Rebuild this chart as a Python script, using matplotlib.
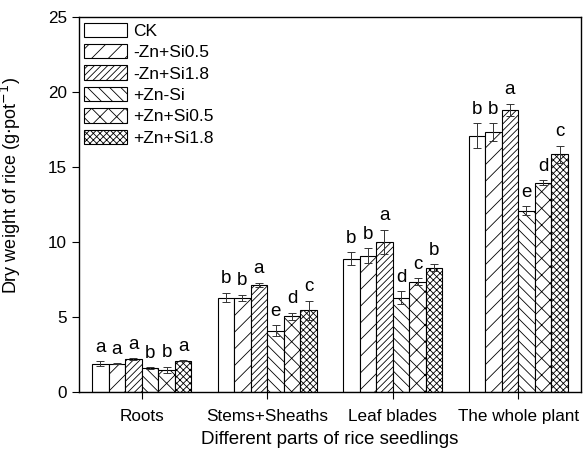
import numpy as np
import matplotlib.pyplot as plt

plt.rcParams['font.family'] = ['Liberation Sans', 'DejaVu Sans']
plt.rcParams['hatch.linewidth'] = 0.6

parts = ["Roots", "Stems+Sheaths", "Leaf blades", "The whole plant"]
treatments = ["CK", "-Zn+Si0.5", "-Zn+Si1.8", "+Zn-Si", "+Zn+Si0.5", "+Zn+Si1.8"]
hatches = ["", "//", "/////", "\\\\\\", "xx", "xxxxx"]

# rows = treatments, cols = parts
means = [
    [1.9, 6.3, 8.9, 17.1],
    [1.9, 6.3, 9.1, 17.35],
    [2.2, 7.15, 10.0, 18.8],
    [1.6, 4.1, 6.3, 12.1],
    [1.5, 5.05, 7.35, 13.95],
    [2.1, 5.45, 8.3, 15.85],
]
errs = [
    [0.15, 0.33, 0.44, 0.82],
    [0.05, 0.2, 0.47, 0.6],
    [0.08, 0.15, 0.83, 0.43],
    [0.05, 0.37, 0.42, 0.27],
    [0.2, 0.25, 0.23, 0.18],
    [0.05, 0.65, 0.24, 0.58],
]
letters = [
    ["a", "b", "b", "b"],
    ["a", "b", "b", "b"],
    ["a", "a", "a", "a"],
    ["b", "e", "d", "e"],
    ["b", "d", "c", "d"],
    ["a", "c", "b", "c"],
]

fig = plt.figure(figsize=(5.83, 4.57), dpi=100)
ax = fig.add_axes([0.1355, 0.1422, 0.861, 0.8206])

x = np.arange(len(parts))
w = 0.132
for i, name in enumerate(treatments):
    pos = x + (i - 2.5) * w
    ax.bar(pos, means[i], w, color="white", edgecolor="black", linewidth=0.8,
           hatch=hatches[i], label=name)
    ax.errorbar(pos, means[i], yerr=errs[i], fmt="none", ecolor="#333333",
                elinewidth=0.7, capsize=3, capthick=0.7)
    for j in range(len(parts)):
        ax.text(pos[j], means[i][j] + errs[i][j] + 0.35, letters[i][j],
                ha="center", va="bottom", fontsize=13.5)

ax.set_xlim(-0.5, 3.5)
ax.set_ylim(0, 25)
ax.set_yticks([0, 5, 10, 15, 20, 25])
ax.set_xticks(x)
ax.set_xticklabels(parts)
ax.tick_params(axis="both", labelsize=12.3, direction="out", length=5, width=0.8)
ax.tick_params(axis="x", pad=7)
for s in ax.spines.values():
    s.set_linewidth(1.0)

ax.set_xlabel("Different parts of rice seedlings", fontsize=13.5, labelpad=5)
ax.set_ylabel(r"Dry weight of rice (g$\cdot$pot$^{-1}$)", fontsize=13)
ax.yaxis.set_label_coords(-0.112, 0.55)

ax.legend(loc="upper left", bbox_to_anchor=(0.01, 0.985), frameon=False,
          fontsize=12.5, handlelength=2.5, handleheight=0.9, labelspacing=0.3,
          handletextpad=0.35, borderaxespad=0, borderpad=0)

fig.savefig("out.png", dpi=100)
